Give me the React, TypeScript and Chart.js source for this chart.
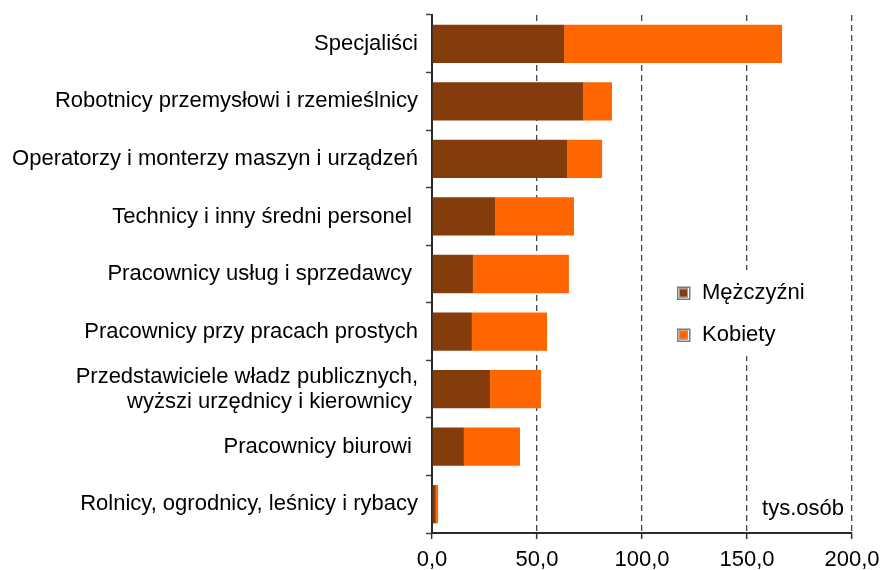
import React, { useEffect, useRef } from "react";
import { Chart, registerables } from "chart.js";

Chart.register(...registerables);

const categories: (string | string[])[] = [
  "Specjaliści",
  "Robotnicy przemysłowi i rzemieślnicy",
  "Operatorzy i monterzy maszyn i urządzeń",
  "Technicy i inny średni personel ",
  "Pracownicy usług i sprzedawcy ",
  "Pracownicy przy pracach prostych",
  ["Przedstawiciele władz publicznych,", "wyższi urzędnicy i kierownicy "],
  "Pracownicy biurowi ",
  "Rolnicy, ogrodnicy, leśnicy i rybacy",
];

const men = [62.9, 71.9, 64.3, 30.0, 19.5, 19.0, 27.6, 15.2, 1.8];
const women = [103.8, 13.8, 16.7, 37.6, 45.7, 35.8, 24.3, 26.7, 1.1];

const seriesLabels = ["Mężczyźni", "Kobiety"];
const seriesColors = ["#843C0C", "#FF6600"];
const xTicks = [0, 50, 100, 150, 200];
const unitLabel = "tys.osób";

const FONT = '"Liberation Sans", Arial, sans-serif';

const overlayPlugin = {
  id: "overlay",
  afterDraw(chart: any) {
    const ctx = chart.ctx;
    ctx.save();
    // legend box
    ctx.fillStyle = "#ffffff";
    ctx.fillRect(665, 270, 150, 86);
    const rows = [293, 335];
    chart.data.datasets.forEach((ds: any, i: number) => {
      const cy = rows[i];
      const x = 677;
      const y = cy - 6.5;
      ctx.fillStyle = ds.backgroundColor;
      ctx.fillRect(x + 2, y + 2, 9, 9);
      ctx.strokeStyle = "#7a7a7a";
      ctx.lineWidth = 1.5;
      ctx.strokeRect(x + 0.75, y + 0.75, 12, 12);
      ctx.strokeStyle = "#9a9a9a";
      ctx.lineWidth = 1;
      ctx.strokeRect(x + 2.5, y + 2.5, 8, 8);
      ctx.fillStyle = "#000";
      ctx.font = `22px ${FONT}`;
      ctx.textAlign = "left";
      ctx.textBaseline = "middle";
      ctx.fillText(ds.label, 702, cy);
    });
    // unit label
    ctx.fillStyle = "#000";
    ctx.font = `22px ${FONT}`;
    ctx.textAlign = "right";
    ctx.textBaseline = "alphabetic";
    ctx.fillText(unitLabel, 844, 515);
    ctx.restore();
  },
};

const zeroPad = (scale: any) => {
  scale.paddingLeft = 0;
  scale.paddingRight = 0;
  scale.paddingTop = 0;
  scale.paddingBottom = 0;
};

export default function App() {
  const ref = useRef<HTMLCanvasElement | null>(null);

  useEffect(() => {
    if (!ref.current) return;
    const chart = new Chart(ref.current, {
      type: "bar",
      data: {
        labels: categories,
        datasets: [
          {
            label: seriesLabels[0],
            data: men,
            backgroundColor: seriesColors[0],
            borderWidth: 0,
          },
          {
            label: seriesLabels[1],
            data: women,
            backgroundColor: seriesColors[1],
            borderWidth: 0,
          },
        ],
      },
      options: {
        indexAxis: "y",
        animation: false,
        responsive: false,
        maintainAspectRatio: false,
        layout: { padding: { top: 15, right: 28, left: 0, bottom: 0 } },
        datasets: {
          bar: { categoryPercentage: 1, barPercentage: 0.665 },
        },
        plugins: {
          legend: { display: false },
          tooltip: { enabled: false },
          title: { display: false },
        },
        scales: {
          x: {
            stacked: true,
            min: 0,
            max: 200,
            afterBuildTicks: (scale: any) => {
              scale.ticks = xTicks.map((v) => ({ value: v }));
            },
            afterFit: (scale: any) => {
              scale.height = 37;
              zeroPad(scale);
            },
            ticks: {
              font: { family: FONT, size: 22, lineHeight: 1.2 },
              color: "#000",
              padding: 8,
              maxRotation: 0,
              callback: (v: any) => Number(v).toFixed(1).replace(".", ","),
            },
            grid: {
              color: (c: any) =>
                c.tick && c.tick.value === 0 ? "rgba(0,0,0,0)" : "#474747",
              lineWidth: 1.3,
              drawTicks: true,
              tickLength: 6,
              tickColor: "#333",
              tickWidth: 1.5,
              tickBorderDash: [],
            },
            border: { display: true, color: "#2b2b2b", width: 2, dash: [6, 4] },
          },
          y: {
            stacked: true,
            afterFit: (scale: any) => {
              scale.width = 432;
              zeroPad(scale);
            },
            ticks: {
              font: { family: FONT, size: 22, lineHeight: 1.15 },
              color: "#000",
              padding: 8,
              autoSkip: false,
            },
            grid: {
              display: true,
              drawOnChartArea: false,
              offset: true,
              tickLength: 6,
              tickColor: "#444",
              tickWidth: 1.5,
            },
            border: { display: true, color: "#2b2b2b", width: 2 },
          },
        },
      },
      plugins: [overlayPlugin],
    } as any);
    return () => chart.destroy();
  }, []);

  return (
    <div
      style={{
        position: "fixed",
        left: 0,
        top: 0,
        width: 880,
        height: 570,
        background: "#fff",
      }}
    >
      <canvas ref={ref} width={880} height={570} style={{ display: "block" }} />
    </div>
  );
}
